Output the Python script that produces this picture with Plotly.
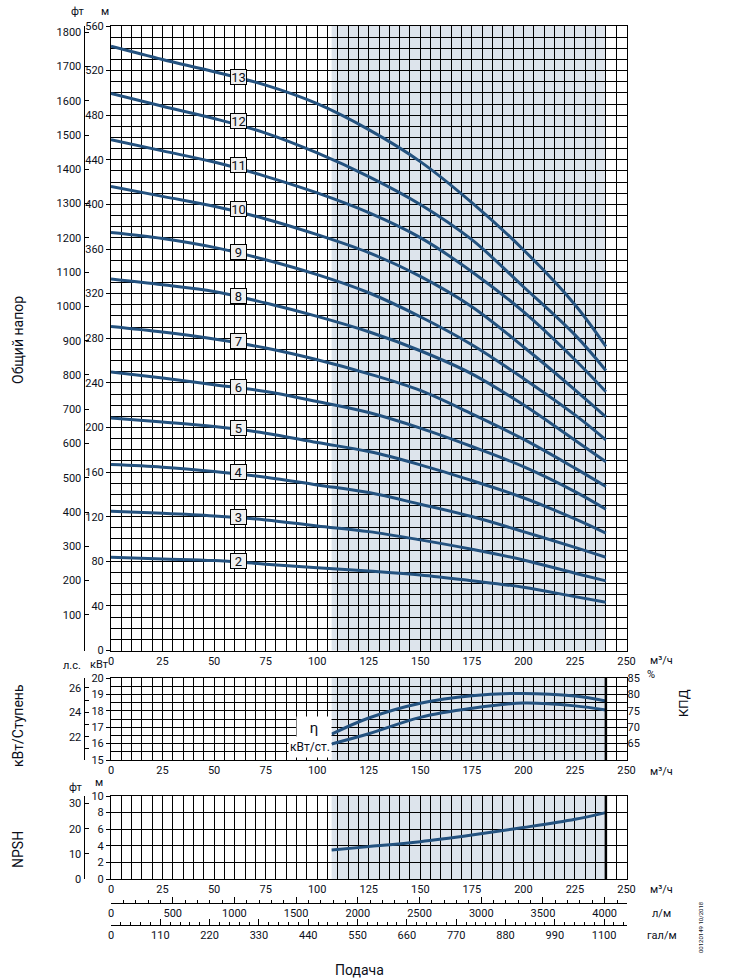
import plotly.graph_objects as go

WIDTH = 730
HEIGHT = 980
FONT = "Roboto, sans-serif"
INK = "#0b0f1a"
CURVE = "#24527f"
SHADE = "#dde4ec"

# operating window, m3/h
Q_MIN = 107
Q_MAX = 240

# head curves, m, one list per number of stages
Q_HEAD = [0, 25, 50, 75, 100, 125, 150, 175, 200, 225, 240]
HEAD_13 = [541.9, 530.0, 519.0, 507.0, 490.4, 467.1, 438.4, 401.6, 359.4, 310.1, 272.6]
HEAD_12 = [499.4, 488.0, 477.0, 464.0, 446.2, 425.0, 400.0, 368.4, 326.2, 283.0, 251.1]
HEAD_11 = [458.1, 448.0, 438.0, 425.2, 410.3, 392.6, 370.2, 339.7, 303.8, 260.7, 232.0]
HEAD_10 = [416.2, 407.2, 398.3, 387.0, 372.9, 356.7, 335.5, 308.3, 272.4, 233.8, 209.5]
HEAD_9 = [374.9, 369.5, 361.5, 350.4, 337.0, 320.8, 299.3, 274.2, 244.0, 211.3, 188.9]
HEAD_8 = [333.1, 328.0, 322.0, 311.6, 299.6, 285.8, 268.8, 248.1, 220.3, 188.5, 169.2]
HEAD_7 = [290.6, 285.6, 279.3, 271.2, 260.7, 248.1, 233.2, 212.2, 189.5, 163.5, 147.0]
HEAD_6 = [249.7, 244.3, 238.3, 232.3, 223.3, 213.4, 199.4, 182.9, 164.9, 142.5, 126.7]
HEAD_5 = [208.4, 204.8, 200.8, 194.9, 186.5, 178.4, 166.5, 152.4, 137.0, 118.0, 105.2]
HEAD_4 = [166.7, 164.4, 160.5, 155.4, 148.5, 141.6, 131.2, 120.1, 106.6, 92.5, 83.6]
HEAD_3 = [124.9, 123.1, 120.7, 117.1, 111.7, 106.6, 99.2, 90.8, 81.2, 69.3, 62.4]
HEAD_2 = [83.6, 82.1, 80.6, 77.4, 74.3, 71.3, 67.8, 62.6, 56.7, 48.3, 43.3]
HEADS = [HEAD_13, HEAD_12, HEAD_11, HEAD_10, HEAD_9, HEAD_8, HEAD_7, HEAD_6, HEAD_5, HEAD_4, HEAD_3, HEAD_2]

STAGES = ["13", "12", "11", "10", "9", "8", "7", "6", "5", "4", "3", "2"]
STAGE_Q = 62
STAGE_HEAD = [514.7, 474.4, 435.7, 396.3, 357.7, 318.2, 277.8, 236.6, 199.2, 160.5, 119.5, 80.3]

# efficiency, power and NPSH, from 107 m3/h up
Q_LOW = [107, 125, 150, 175, 200, 225, 240]
EFFICIENCY = [67.9, 72.8, 77.3, 79.6, 80.3, 79.5, 78.0]
POWER = [15.98, 16.6, 17.6, 18.15, 18.47, 18.3, 18.05]
NPSH = [3.5, 3.9, 4.5, 5.3, 6.2, 7.2, 8.0]

FEET_TICKS = list(range(100, 1900, 100))
HP_TICKS = [21, 22, 23, 24, 25, 26]
HP_LABELS = ["", "22", "", "24", "", "26"]
NPSH_FEET_TICKS = [0, 10, 20, 30]
PERCENT_TICKS = [65, 70, 75, 80, 85]

# plot frame in window pixels
LEFT = 111
RIGHT = 626.5
SIDE_AXIS = 83.5


def px(x):
    return x / WIDTH


def py(y):
    return 1 - y / HEIGHT


def band(top, bottom):
    return [py(bottom), py(top)]


tick_font = dict(family=FONT, size=11, color=INK)
x_domain = [px(LEFT), px(RIGHT)]

fig = go.Figure()

for head in HEADS:
    fig.add_trace(go.Scatter(x=Q_HEAD, y=head, mode="lines", xaxis="x", yaxis="y",
                             line=dict(color=CURVE, width=3, shape="spline"), hoverinfo="skip"))

fig.add_trace(go.Scatter(x=Q_LOW, y=EFFICIENCY, mode="lines", xaxis="x2", yaxis="y5",
                         line=dict(color=CURVE, width=3, shape="spline")))
fig.add_trace(go.Scatter(x=Q_LOW, y=POWER, mode="lines", xaxis="x2", yaxis="y3",
                         line=dict(color=CURVE, width=3, shape="spline")))
fig.add_trace(go.Scatter(x=Q_LOW, y=NPSH, mode="lines", xaxis="x3", yaxis="y6",
                         line=dict(color=CURVE, width=3, shape="spline")))

# side scales only show up when a trace sits on them
for x_name, y_name in [("x", "y2"), ("x2", "y4"), ("x3", "y7"), ("x4", "y6"), ("x5", "y6")]:
    fig.add_trace(go.Scatter(x=[None], y=[None], mode="lines", xaxis=x_name, yaxis=y_name, hoverinfo="skip"))


def flow_axis(anchor):
    return dict(domain=x_domain, range=[0, 250], anchor=anchor, dtick=25, tick0=0, automargin=False,
                showgrid=True, gridcolor="black", gridwidth=1, zeroline=False,
                showline=True, linecolor="black", linewidth=1, mirror=True,
                ticks="", tickfont=tick_font,
                minor=dict(dtick=5, showgrid=True, gridcolor="black", gridwidth=1))


def grid_axis(anchor, top, bottom, low, high, step, minor_step=None):
    axis = dict(domain=band(top, bottom), range=[low, high], anchor=anchor, dtick=step, tick0=low,
                automargin=False, showgrid=True, gridcolor="black", gridwidth=1, zeroline=False,
                showline=True, linecolor="black", linewidth=1, mirror=True,
                ticks="outside", ticklen=4, tickcolor="black", tickfont=tick_font)
    if minor_step:
        axis["minor"] = dict(dtick=minor_step, showgrid=True, gridcolor="black", gridwidth=1)
    return axis


def side_axis(overlay, top, bottom, low, high, vals, labels=None):
    return dict(domain=band(top, bottom), range=[low, high], overlaying=overlay, anchor="free",
                position=px(SIDE_AXIS), side="left", showgrid=False, zeroline=False, automargin=False,
                showline=True, linecolor="black", linewidth=1,
                tickmode="array", tickvals=vals, ticktext=labels if labels else [str(v) for v in vals],
                ticks="inside", ticklen=4, tickcolor="black", tickfont=tick_font)


def volume_axis(y, high, major, minor):
    return dict(domain=x_domain, range=[0, high], overlaying="x3", anchor="free", position=py(y),
                side="bottom", dtick=major, tick0=0, showgrid=False, zeroline=False, automargin=False,
                showline=True, linecolor="black", linewidth=1,
                ticks="inside", ticklen=6, tickcolor="black", tickfont=tick_font,
                minor=dict(dtick=minor, ticks="inside", ticklen=3, tickcolor="black", showgrid=False))


shapes = []
for x_ref, y_ref in [("x", "y"), ("x2", "y3"), ("x3", "y6")]:
    shapes.append(dict(type="rect", layer="below", xref=x_ref, yref=y_ref + " domain",
                       x0=Q_MIN, x1=Q_MAX, y0=0, y1=1, fillcolor=SHADE, line_width=0))
for x_ref, y_ref in [("x2", "y3"), ("x3", "y6")]:
    shapes.append(dict(type="line", layer="above", xref=x_ref, yref=y_ref + " domain",
                       x0=Q_MAX, x1=Q_MAX, y0=0, y1=1, line=dict(color="black", width=2.5)))

annotations = []
for stage, head in zip(STAGES, STAGE_HEAD):
    annotations.append(dict(x=STAGE_Q, y=head, xref="x", yref="y", text=stage, showarrow=False,
                            font=dict(family=FONT, size=13, color=INK), bgcolor="#f0f0f0",
                            bordercolor="black", borderwidth=1, borderpad=0,
                            width=15, height=14, align="center"))


def note(text, x, y, size=11, angle=0, **extra):
    annotations.append(dict(x=px(x), y=py(y), xref="paper", yref="paper", text=text, showarrow=False,
                            textangle=angle, xanchor="center", yanchor="middle",
                            font=dict(family=FONT, size=size, color=INK), **extra))


note("фт", 78, 11)
note("м", 105, 11)
note("л.с.", 72, 665)
note("кВт", 99, 664)
note("фт", 76, 787)
note("м", 99, 782)
note("%", 651, 674)
note("м³/ч", 661, 660)
note("м³/ч", 661, 771)
note("м³/ч", 661, 889)
note("л/м", 661, 913)
note("гал/м", 662, 935)
note("Общий напор", 18, 340, 14, -90)
note("кВт/Ступень", 18, 726, 14, -90)
note("NPSH", 18, 850, 14, -90)
note("КПД", 683, 703, 13, -90)
note("Подача", 359, 970, 14)
note("00120149 10/2018", 700, 927, 6, -90)
note("η", 314, 728, 15, bgcolor="white", width=32, height=20)
note("кВт/ст.", 310, 747, 12, bgcolor="white", width=40, height=18)

fig.update_layout(
    template="none",
    width=WIDTH, height=HEIGHT, margin=dict(l=0, r=0, t=0, b=0, pad=0), autosize=False,
    paper_bgcolor="white", plot_bgcolor="white", showlegend=False,
    shapes=shapes, annotations=annotations,
    xaxis=flow_axis("y"),
    xaxis2=flow_axis("y3"),
    xaxis3=flow_axis("y6"),
    xaxis4=volume_axis(903, 4177, 500, 100),
    xaxis5=volume_axis(925, 1150, 110, 22),
    yaxis=grid_axis("x", 26, 650.5, 0, 560, 40, 10),
    yaxis2=side_axis("y", 26, 650.5, -4, 1818, FEET_TICKS),
    yaxis3=grid_axis("x2", 678, 760, 15, 20, 1, 0.5),
    yaxis4=side_axis("y3", 678, 760, 20.1, 26.8, HP_TICKS, HP_LABELS),
    yaxis5=dict(domain=band(678, 760), range=[60, 85], overlaying="y3", anchor="x2", side="right",
                automargin=False, tickmode="array", tickvals=PERCENT_TICKS, ticks="",
                showgrid=False, zeroline=False, tickfont=tick_font),
    yaxis6=grid_axis("x3", 796, 879, 0, 10, 2),
    yaxis7=side_axis("y6", 796, 879, 0, 33, NPSH_FEET_TICKS),
)

fig.write_html("out.html", config=dict(displayModeBar=False),
               post_script="document.body.style.margin = '0';")
